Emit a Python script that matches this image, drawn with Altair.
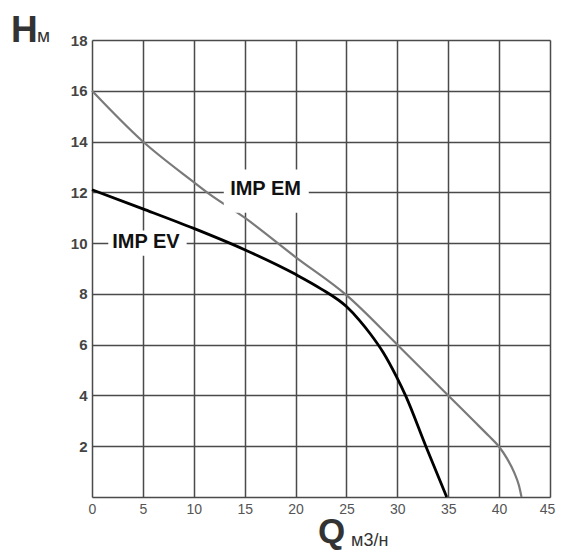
import altair as alt
import pandas as pd

# ---- data ----
em_q = [0, 5, 10, 11.3, 15, 20, 25, 30, 35, 37.5, 39, 40, 40.8, 41.5, 41.95, 42.2]
em_h = [16, 14, 12.4, 12, 11, 9.45, 7.95, 6, 4, 3.0, 2.4, 1.98, 1.5, 0.95, 0.45, 0]

ev_q = [0, 5, 10, 15, 20, 22.5, 25, 26.3, 27.3, 28.6, 29.9, 30.8, 32.8, 34.85]
ev_h = [12.1, 11.35, 10.58, 9.74, 8.77, 8.2, 7.5, 6.95, 6.45, 5.7, 4.75, 4.0, 2.0, 0]

lab_text = ["IMP EM", "IMP EV"]
lab_q = [17.05, 5.3]
lab_h = [12.13, 10.03]
box_q1 = [12.95, 1.6]
box_q2 = [21.3, 9.3]
box_h1 = [11.2, 9.5]
box_h2 = [12.9, 10.5]

x_ticks = list(range(0, 46, 5))
y_ticks = list(range(0, 19, 2))

em = pd.DataFrame({"q": em_q, "h": em_h})
ev = pd.DataFrame({"q": ev_q, "h": ev_h})
labs = pd.DataFrame({"t": lab_text, "q": lab_q, "h": lab_h,
                     "q1": box_q1, "q2": box_q2, "h1": box_h1, "h2": box_h2})

FONT = "Liberation Sans"
xs = alt.Scale(domain=[0, 45], nice=False, zero=False)
ys = alt.Scale(domain=[0, 18], nice=False, zero=False)

xax = alt.Axis(values=x_ticks, grid=True, gridColor="#4a4a4a", gridWidth=1.5,
               gridOpacity=1, ticks=False, domain=False, labelFont=FONT,
               labelFontSize=14, labelColor="#555555", labelPadding=5,
               title=None, labelFlush=False,
               labelOffset={"condition": {"test": "datum.value == 45", "value": -3},
                            "value": 0})
yax = alt.Axis(values=y_ticks, grid=True, gridColor="#4a4a4a", gridWidth=1.5,
               gridOpacity=1, ticks=False, domain=False, labelFont=FONT,
               labelFontSize=15, labelFontWeight="bold", labelColor="#444444",
               labelPadding=5, title=None,
               labelExpr="datum.value == 0 ? '' : datum.label")

base_em = alt.Chart(em).mark_line(color="#7a7a7a", strokeWidth=2.2,
                                  interpolate="monotone").encode(
    x=alt.X("q:Q", scale=xs, axis=xax),
    y=alt.Y("h:Q", scale=ys, axis=yax),
)
line_ev = alt.Chart(ev).mark_line(color="#000000", strokeWidth=2.8,
                                  interpolate="monotone").encode(
    x=alt.X("q:Q", scale=xs),
    y=alt.Y("h:Q", scale=ys),
)
boxes = alt.Chart(labs).mark_rect(color="white").encode(
    x=alt.X("q1:Q", scale=xs), x2="q2:Q",
    y=alt.Y("h1:Q", scale=ys), y2="h2:Q",
)
texts = alt.Chart(labs).mark_text(font=FONT, fontSize=20, fontWeight="bold",
                                  color="#111111", baseline="middle").encode(
    x=alt.X("q:Q", scale=xs), y=alt.Y("h:Q", scale=ys), text="t:N",
)

def title_text(txt, px, py, size, weight="bold"):
    return alt.Chart(pd.DataFrame({"t": [txt]})).mark_text(
        font=FONT, fontSize=size, fontWeight=weight, color="#333333",
        align="left", baseline="alphabetic").encode(
        x=alt.value(px), y=alt.value(py), text="t:N")

h_big = title_text("H", -81, 2, 37)
h_small = title_text("м", -55, 2, 19, "normal")
q_big = title_text("Q", 226, 503, 35)
q_small = title_text("м3/н", 259, 506, 18, "normal")

chart = alt.layer(base_em, line_ev, boxes, texts, h_big, h_small, q_big, q_small).properties(
    width=458, height=457,
    autosize=alt.AutoSizeParams(type="none"),
    padding={"left": 84, "top": 32, "right": 6, "bottom": 53},
).configure_view(stroke=None).configure(background="white")

chart.save("out.html", embed_options={"renderer": "svg", "actions": False})
